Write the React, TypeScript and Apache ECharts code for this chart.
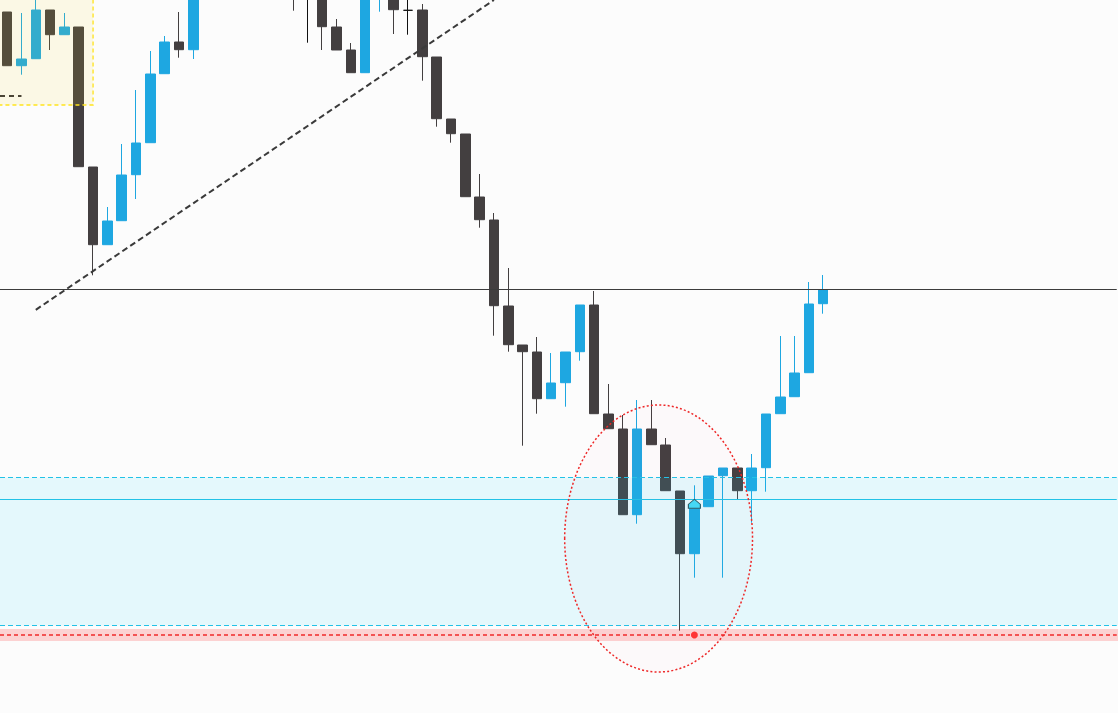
import React, { useEffect, useRef } from "react";
import * as echarts from "echarts";

// Price data (chart units), one entry per bar slot; null = bar not on screen
const opens = [701, 647.3, 654.3, 703, 678.3, 686, 546, 468.3, 492.3, 538.3, 570.3, 639.3, 671, 663.3,
  null, null, null, null, null, null,
  753, 733, 723, 686, 663, 640.3, 733, 723, 702.7, 703, 656, 594, 579, 516, 493, 407, 368, 361, 314.3, 330.3,
  361.3, 408, 299, 284, 198.3, 284, 268, 222, 159.3, 206.3, 237.3, 245, 222.3, 245.3, 299.3, 316.3, 340.3, 409.3];
const closes = [647.3, 654, 703, 678.3, 686, 546.3, 468.3, 492, 538, 570, 639, 671, 663.3, 733,
  null, null, null, null, null, null,
  733, 733, 686.3, 663, 640.3, 723, 753, 703.3, 702.7, 656.3, 594.3, 579.3, 516.3, 493.3, 407.3, 368.3, 361.3, 314.3, 330, 361,
  408, 299.3, 284.3, 198.3, 284, 268.3, 222.3, 159.3, 204.7, 237, 245, 222.3, 245, 299, 316, 340, 409, 423.3];
const lows = [647.3, 638.3, 654.3, 663, 678.3, 546.3, 437.7, 468.3, 492.3, 514, 570.3, 639.3, 655.3, 654,
  null, null, null, null, null, null,
  702.3, 670.3, 663, 663, 640.3, 640.3, 701.3, 679, 678.3, 632.3, 586.3, 570.3, 516.3, 485.3, 377.3, 361.3, 267.3, 299.3, 314.3, 306.3,
  352.3, 299.3, 284.3, 198.3, 189.3, 268.3, 222.3, 82.3, 135.3, 206.3, 135.3, 214, 190.3, 221.3, 299.3, 316.3, 340.3, 399.3];
const highs = [701, 700, 718, 703, 700, 686, 546, 506, 569, 623, 662, 677, 701, 743,
  null, null, null, null, null, null,
  763, 743, 733, 694, 670, 733, 763, 733, 718, 709, 656, 594, 579, 539, 500, 445, 368, 376, 360, 361,
  408, 422, 329, 298, 313, 313, 275, 222, 227.7, 237, 245, 245, 259, 299, 377, 377, 431, 438];

// Levels
const resistanceLevel = 423.5;
const zoneTop = 235.5;
const zoneMid = 213.5;
const zoneBottom = 87.5;
const supportLevel = 78;
const supportBand = [72, 84];
const boxRange = { x: [-1.5, 6], y: [608, 760] };
const boxLevel = 617.3;
const trendStart = [2, 403.2];
const trendEnd = [34, 713];
const entryBar = 48;
const entryPrice = 204.7;
const ellipseSpec = [45.5, 174.5, 6.56, 133.5];

const BLUE = "#1ea7e1";
const DARK = "#433f40";

export default function App() {
  const ref = useRef<HTMLDivElement>(null);
  useEffect(() => {
    if (!ref.current) return;
    const chart = echarts.init(ref.current, undefined, { renderer: "svg" });

    const candleData: any[] = [];
    opens.forEach((o, i) => {
      if (o === null) return;
      candleData.push([i, o, closes[i], lows[i], highs[i]]);
    });

    const zones = [
      [boxRange.x[0], boxRange.x[1], boxRange.y[0], boxRange.y[1]],
      [-3, 80, zoneBottom, zoneTop],
      [-3, 80, supportBand[0], supportBand[1]],
    ];
    const zoneStyles = [
      { fill: "rgba(242,212,25,0.10)", stroke: "#ffe31c", lineWidth: 1.3, lineDash: [4, 3] },
      { fill: "rgba(22,212,252,0.10)", stroke: null },
      { fill: "rgba(255,20,20,0.18)", stroke: null },
    ];

    const lineCommon = { symbol: ["none", "none"], label: { show: false }, silent: true };

    chart.setOption({
      animation: false,
      backgroundColor: "#fcfcfc",
      grid: { left: -0.66, right: 1.26, top: 0, bottom: 0 },
      xAxis: { type: "value", min: -0.5, max: 77.5, show: false, splitLine: { show: false } },
      yAxis: { type: "value", min: 0, max: 713, show: false, splitLine: { show: false } },
      series: [
        {
          type: "candlestick",
          z: 2,
          barWidth: 10,
          encode: { x: 0, y: [1, 2, 3, 4] },
          data: candleData,
          itemStyle: {
            color: BLUE,
            color0: DARK,
            borderColor: BLUE,
            borderColor0: DARK,
            borderColorDoji: "#111111",
            borderWidth: 1,
          },
          markLine: {
            ...lineCommon,
            z: 5,
            data: [
              { yAxis: resistanceLevel, lineStyle: { color: "#3c3c3c", width: 1, type: "solid" } },
              { yAxis: zoneMid, lineStyle: { color: "#22c2e6", width: 1, type: "solid" } },
              { yAxis: zoneTop, lineStyle: { color: "#22c2e6", width: 1, type: [5, 3] } },
              { yAxis: zoneBottom, lineStyle: { color: "#22c2e6", width: 1, type: [5, 3] } },
              { yAxis: supportLevel, lineStyle: { color: "#f02a2a", width: 1.5, type: [4, 3] } },
              [
                { coord: trendStart, lineStyle: { color: "#3a3a3a", width: 2, type: [6, 3.5] } },
                { coord: trendEnd },
              ],
              [
                { coord: [-0.5, boxLevel], lineStyle: { color: "#4a4536", width: 2, type: [5, 4] } },
                { coord: [1, boxLevel] },
              ],
            ],
          },
        },
        {
          type: "custom",
          z: 3,
          silent: true,
          encode: { x: [0, 1], y: [2, 3] },
          data: zones,
          renderItem: (params: any, api: any) => {
            const p0 = api.coord([api.value(0), api.value(3)]);
            const p1 = api.coord([api.value(1), api.value(2)]);
            const s: any = zoneStyles[params.dataIndex];
            return {
              type: "rect",
              shape: { x: p0[0], y: p0[1], width: p1[0] - p0[0], height: p1[1] - p0[1] },
              style: {
                fill: s.fill,
                stroke: s.stroke,
                lineWidth: s.lineWidth || 0,
                lineDash: s.lineDash,
              },
            };
          },
        },
        {
          type: "custom",
          z: 6,
          silent: true,
          encode: { x: 0, y: 1 },
          data: [ellipseSpec],
          renderItem: (params: any, api: any) => {
            const cx = api.value(0), cy = api.value(1), rx = api.value(2), ry = api.value(3);
            const c = api.coord([cx, cy]);
            const e = api.coord([cx + rx, cy + ry]);
            return {
              type: "ellipse",
              shape: { cx: c[0], cy: c[1], rx: Math.abs(e[0] - c[0]), ry: Math.abs(e[1] - c[1]) },
              style: {
                fill: "rgba(255,110,150,0.018)",
                stroke: "#ee2828",
                lineWidth: 1.5,
                lineDash: [2, 2.2],
              },
            };
          },
        },
        {
          type: "scatter",
          z: 7,
          silent: true,
          data: [[entryBar, entryPrice]],
          symbol: "path://M6,0 L12,5 L12,9 L0,9 L0,5 Z",
          symbolSize: [12, 9],
          symbolOffset: [0, "-50%"],
          itemStyle: { color: "#45d8f5", borderColor: "#2f5d68", borderWidth: 1, opacity: 1 },
        },
        {
          type: "scatter",
          z: 7,
          silent: true,
          data: [[entryBar, supportLevel]],
          symbol: "circle",
          symbolSize: 7,
          itemStyle: { color: "#ff3535", opacity: 1 },
        },
      ],
    });
    return () => chart.dispose();
  }, []);
  return (
    <div
      ref={ref}
      style={{ position: "fixed", left: 0, top: 0, width: 1118, height: 713 }}
    />
  );
}
